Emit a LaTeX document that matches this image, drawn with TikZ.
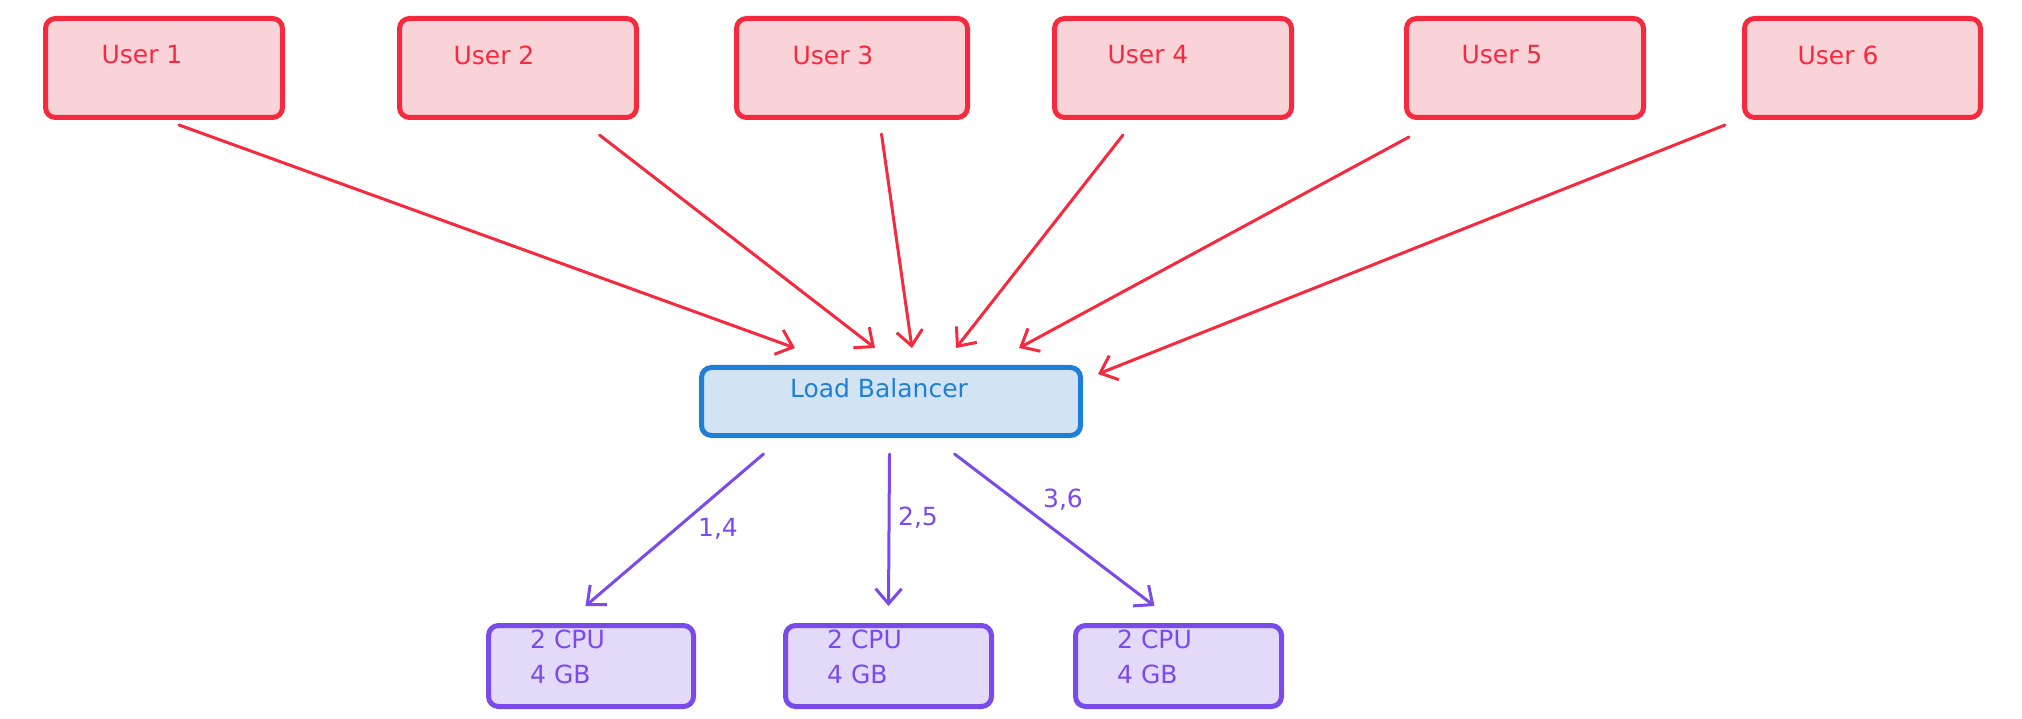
\documentclass[tikz,border=0pt]{standalone}
\usepackage{fontspec}
\setmainfont{DejaVu Sans}
\usetikzlibrary{arrows.meta}
\definecolor{ured}{HTML}{F62A3F}
\definecolor{ufill}{HTML}{FAD3D8}
\definecolor{lblue}{HTML}{1F7FD6}
\definecolor{lfill}{HTML}{D2E3F3}
\definecolor{cpurp}{HTML}{7B4AEA}
\definecolor{cfill}{HTML}{E2DAF8}
\begin{document}
\begin{tikzpicture}[x=1pt,y=-1pt,
  box/.style={draw, line width=5pt, rounded corners=10pt, inner sep=0pt, anchor=north west},
  ubox/.style={box, draw=ured, fill=ufill, minimum width=237pt, minimum height=99pt},
  lbbox/.style={box, draw=lblue, fill=lfill, minimum width=379pt, minimum height=68pt},
  cbox/.style={box, draw=cpurp, fill=cfill, minimum width=205pt, minimum height=81pt},
  txt/.style={inner sep=0pt, font=\fontsize{25}{35}\selectfont},
  utext/.style={txt, text=ured},
  ctext/.style={txt, text=cpurp, align=left, anchor=west},
  arr/.style={line width=3pt, line cap=round, -{Straight Barb[length=15pt,width=26pt,line width=3pt]}},
  uarr/.style={arr, draw=ured},
  carr/.style={arr, draw=cpurp}]
\useasboundingbox (0,0) rectangle (2022,719);

% user boxes
\node[ubox] (b1) at (43,16) {};
\node[ubox] (b2) at (397,16) {};
\node[ubox, minimum width=231pt] (b3) at (734,16) {};
\node[ubox] (b4) at (1052,16) {};
\node[ubox] (b5) at (1404,16) {};
\node[ubox, minimum width=236pt] (b6) at (1742,16) {};
\node[utext] (t1) at (142,55) {User 1};
\node[utext] (t2) at (494,55) {User 2};
\node[utext] (t3) at (833,55) {User 3};
\node[utext] (t4) at (1148,55) {User 4};
\node[utext] (t5) at (1502,55) {User 5};
\node[utext] (t6) at (1838,55) {User 6};

% load balancer
\node[lbbox] (lb) at (699,365) {};
\node[txt, text=lblue] (lbt) at (879,388) {Load Balancer};

% cpu boxes
\node[cbox] (c1) at (486,623) {};
\node[cbox, minimum width=206pt] (c2) at (783,623) {};
\node[cbox, minimum width=206pt] (c3) at (1073,623) {};
\node[ctext] (ct1) at (530,657) {2 CPU\\4 GB};
\node[ctext] (ct2) at (827,657) {2 CPU\\4 GB};
\node[ctext] (ct3) at (1117,657) {2 CPU\\4 GB};

% user -> LB
\draw[uarr] ([shift={(15,5)}]b1.south) -- ([shift={(-96,-17)}]lb.north);
\draw[uarr] ([shift={(81.5,15)}]b2.south) -- ([shift={(-16,-17)}]lb.north);
\draw[uarr] ([shift={(29.5,14)}]b3.south) -- ([shift={(21,-17)}]lb.north);
\draw[uarr] ([shift={(-50,15)}]b4.south) -- ([shift={(65,-17)}]lb.north);
\draw[uarr] ([shift={(-116,17)}]b5.south) -- ([shift={(128,-17)}]lb.north);
\draw[uarr] ([shift={(-17,5)}]b6.south west) -- ([shift={(15,9)}]lb.north east);

% LB -> cpu
\draw[carr] ([shift={(-127.5,16)}]lb.south) -- ([shift={(-5.5,-17)}]c1.north);
\draw[carr] ([shift={(-1.5,16)}]lb.south) -- ([shift={(0,-17)}]c2.north);
\draw[carr] ([shift={(63.5,16)}]lb.south) -- ([shift={(-24,-17)}]c3.north);

\node[txt, text=cpurp] (l1) at (718,529) {1,4};
\node[txt, text=cpurp] (l2) at (918,518) {2,5};
\node[txt, text=cpurp] (l3) at (1063,500) {3,6};
\end{tikzpicture}
\end{document}
